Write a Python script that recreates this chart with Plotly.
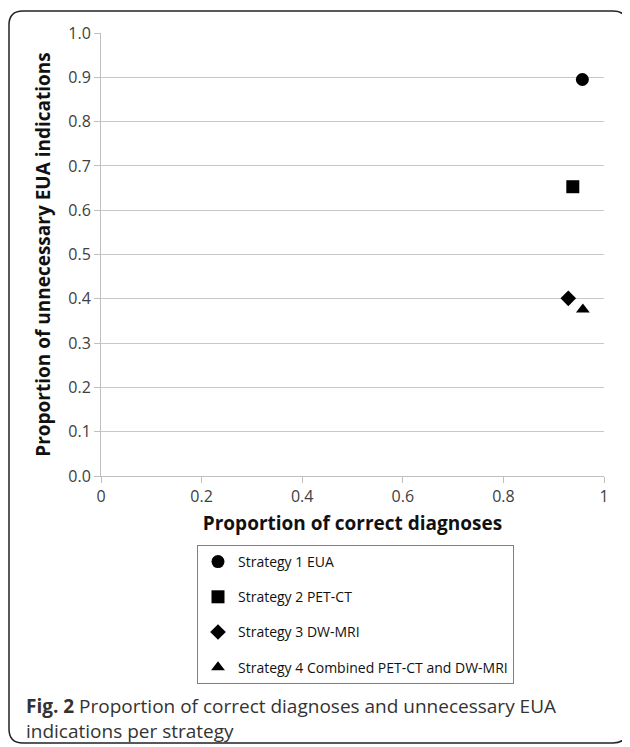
import plotly.graph_objects as go

# Data
strategies = ["Strategy 1 EUA", "Strategy 2 PET-CT", "Strategy 3 DW-MRI",
              "Strategy 4 Combined PET-CT and DW-MRI"]
correct_diagnoses = [0.957, 0.938, 0.929, 0.958]
unnecessary_eua = [0.895, 0.653, 0.401, 0.376]
symbols = ["circle", "square", "diamond", "triangle-up"]
marker_sizes = [13, 13, 12, 12]
x_tick_vals = [0, 0.2, 0.4, 0.6, 0.8, 1]
x_tick_text = ["0", "0.2", "0.4", "0.6", "0.8", "1"]

OFF = 8  # page body margin
W, H = 630 - OFF, 747 - OFF
L, T = 101 - OFF, 33 - OFF
R = W - (604 - OFF)
B = H - (476 - OFF)
pw, ph = W - L - R, H - T - B

def px(X):
    return (X - OFF - L) / pw

def py(Y):
    return (H - B - (Y - OFF)) / ph

fig = go.Figure()
for i, name in enumerate(strategies):
    fig.add_trace(go.Scatter(
        x=[correct_diagnoses[i]], y=[unnecessary_eua[i]],
        mode="markers", name=name, legendgroup=f"g{i}",
        marker=dict(symbol=symbols[i], size=marker_sizes[i], color="black"),
    ))

# outer rounded frame
x0, x1, y0, y1, r = 9, 627, 11, 743, 14
path = (f"M {px(x0 + r)},{py(y0)} L {px(x1 - r)},{py(y0)} "
        f"Q {px(x1)},{py(y0)} {px(x1)},{py(y0 + r)} "
        f"L {px(x1)},{py(y1 - r)} Q {px(x1)},{py(y1)} {px(x1 - r)},{py(y1)} "
        f"L {px(x0 + r)},{py(y1)} Q {px(x0)},{py(y1)} {px(x0)},{py(y1 - r)} "
        f"L {px(x0)},{py(y0 + r)} Q {px(x0)},{py(y0)} {px(x0 + r)},{py(y0)} Z")

fig.update_layout(
    width=W, height=H,
    margin=dict(l=L, r=R, t=T, b=B),
    paper_bgcolor="white", plot_bgcolor="white",
    font=dict(family="Open Sans", color="#333333"),
    showlegend=True,
    legend=dict(
        x=px(197), y=py(545), xanchor="left", yanchor="top",
        bordercolor="#808080", borderwidth=1, bgcolor="white",
        font=dict(size=14, color="#111111", family="Open Sans"),
        tracegroupgap=14, entrywidth=284, itemwidth=30,
    ),
    xaxis=dict(
        range=[0, 1], tickvals=x_tick_vals, ticktext=x_tick_text,
        showgrid=False, zeroline=False, showline=True, linecolor="#bfbfbf",
        ticks="outside", ticklen=6, tickcolor="#bfbfbf",
        tickfont=dict(size=16, color="#404040"),
        title=dict(text="<b>Proportion of correct diagnoses</b>",
                   font=dict(size=19, color="#111111"), standoff=10),
    ),
    yaxis=dict(
        range=[0, 1], dtick=0.1, tickformat=".1f",
        showgrid=True, gridcolor="#c8c8c8", gridwidth=1,
        zeroline=False, showline=True, linecolor="#bfbfbf",
        ticks="outside", ticklen=6, tickcolor="#bfbfbf",
        tickfont=dict(size=16, color="#404040"),
        title=dict(text="<b>Proportion of unnecessary EUA indications</b>",
                   font=dict(size=19, color="#111111"), standoff=12),
    ),
    shapes=[dict(type="path", xref="paper", yref="paper", path=path,
                 line=dict(color="#222222", width=1.5), fillcolor="rgba(0,0,0,0)",
                 layer="below")],
    annotations=[dict(
        xref="paper", yref="paper", x=px(24), y=py(691),
        xanchor="left", yanchor="top", align="left", showarrow=False,
        text="<b>Fig. 2</b> Proportion of correct diagnoses and unnecessary EUA<br>indications per strategy",
        font=dict(size=19, color="#333333", family="Open Sans"),
    )],
)

fig.write_html("out.html")
